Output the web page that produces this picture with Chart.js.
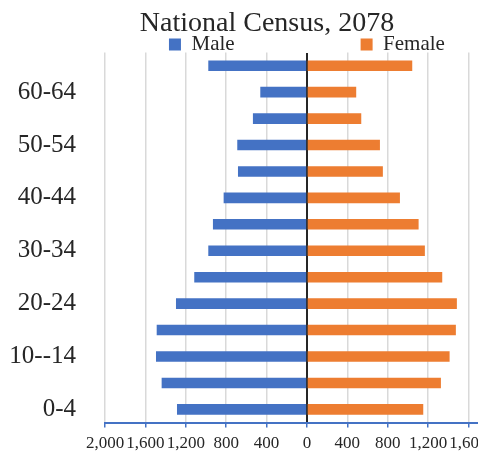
<!DOCTYPE html>
<html>
<head>
<meta charset="utf-8">
<script src="https://cdn.jsdelivr.net/npm/chart.js@4/dist/chart.umd.min.js"></script>
<style>
  html, body { margin: 0; padding: 0; overflow: hidden; background: #ffffff; width: 478px; height: 454px; }
  #wrap { position: absolute; left: 0; top: 0; width: 534px; height: 454px; }
</style>
</head>
<body>
<div id="wrap"><canvas id="c" width="534" height="454"></canvas></div>
<script>
// Age groups, bottom (youngest) to top (oldest)
const ageGroups = ['0-4', '5-9', '10--14', '15-19', '20-24', '25-29', '30-34', '35-39', '40-44', '45-49', '50-54', '55-59', '60-64', '65+'];
const maleValues = [1287, 1439, 1495, 1488, 1297, 1116, 977, 931, 825, 683, 690, 535, 462, 977];
const femaleValues = [1152, 1327, 1413, 1475, 1485, 1340, 1168, 1106, 921, 752, 723, 538, 488, 1043];
const xTickValues = [-2000, -1600, -1200, -800, -400, 0, 400, 800, 1200, 1600, 2000];
const chartTitle = 'National Census, 2078';
const seriesNames = ['Male', 'Female'];

const SERIF = "'Liberation Serif', 'Times New Roman', serif";
const TEXT = '#262626';
const CLEAR = 'rgba(0,0,0,0)';

const setTicks = (scale) => { scale.ticks = xTickValues.map(v => ({ value: v })); };

new Chart(document.getElementById('c'), {
  type: 'bar',
  data: {
    labels: ageGroups,
    datasets: [
      { label: seriesNames[0], data: maleValues.map(v => -v), backgroundColor: '#4472C4', xAxisID: 'x', yAxisID: 'y', borderWidth: 0 },
      { label: seriesNames[1], data: femaleValues, backgroundColor: '#ED7D31', xAxisID: 'x', yAxisID: 'y', borderWidth: 0 }
    ]
  },
  options: {
    indexAxis: 'y',
    responsive: false,
    animation: false,
    devicePixelRatio: 1,
    layout: { padding: { left: 4, right: 4, top: 0, bottom: 0 } },
    datasets: { bar: { barPercentage: 0.4, categoryPercentage: 1 } },
    plugins: {
      tooltip: { enabled: false },
      title: {
        display: true,
        text: chartTitle,
        color: TEXT,
        font: { family: SERIF, size: 28, weight: 'normal', lineHeight: 1 },
        padding: { top: 10, bottom: -4 }
      },
      legend: {
        display: true,
        position: 'top',
        fullSize: false,
        align: 'center',
        maxHeight: 18.5,
        labels: {
          boxWidth: 12,
          boxHeight: 12,
          padding: 0,
          color: TEXT,
          font: { family: SERIF, size: 21 },
          generateLabels: (chart) => {
            const items = Chart.defaults.plugins.legend.labels.generateLabels(chart);
            if (items.length) items[0].text = items[0].text + '\u00a0'.repeat(24);
            return items;
          }
        }
      }
    },
    scales: {
      x: {
        type: 'linear',
        position: 'bottom',
        stacked: true,
        min: -2000,
        max: 2000,
        afterBuildTicks: setTicks,
        afterFit: (scale) => { scale.height = 31.4; },
        grid: {
          color: (ctx) => (ctx.tick && ctx.tick.value === 0) ? CLEAR : '#d9d9d9',
          lineWidth: 1.5,
          tickColor: '#4472C4',
          tickWidth: 1.5,
          tickLength: 5,
          drawTicks: true
        },
        border: { display: true, color: '#4472C4', width: 2 },
        ticks: {
          autoSkip: false,
          maxRotation: 0,
          padding: 6,
          color: TEXT,
          font: { family: SERIF, size: 17, lineHeight: 1.15 },
          callback: (v) => Math.abs(v).toLocaleString('en-US')
        }
      },
      x2: {
        type: 'linear',
        position: 'top',
        min: -2000,
        max: 2000,
        z: 1,
        afterBuildTicks: setTicks,
        afterFit: (scale) => { scale.height = 0; },
        grid: {
          drawTicks: false,
          color: (ctx) => (ctx.tick && ctx.tick.value === 0) ? '#262626' : CLEAR,
          lineWidth: 2
        },
        border: { display: false },
        ticks: { display: false }
      },
      y: {
        type: 'category',
        position: 'left',
        stacked: true,
        reverse: true,
        afterFit: (scale) => { scale.width = 101; },
        grid: { display: true, drawOnChartArea: false, drawTicks: true, tickLength: 27, color: CLEAR, tickColor: CLEAR },
        border: { display: false },
        ticks: {
          autoSkip: false,
          padding: 2,
          color: TEXT,
          font: { family: SERIF, size: 25 },
          callback: function (v, i) {
            return (i % 2 === 0 && i < ageGroups.length - 1) ? this.getLabelForValue(v) : '';
          }
        }
      },
      yRight: {
        type: 'category',
        position: 'right',
        afterFit: (scale) => { scale.width = 20.5; },
        grid: { display: false, drawTicks: false },
        border: { display: false },
        ticks: { display: false }
      }
    }
  }
});
</script>
</body>
</html>
